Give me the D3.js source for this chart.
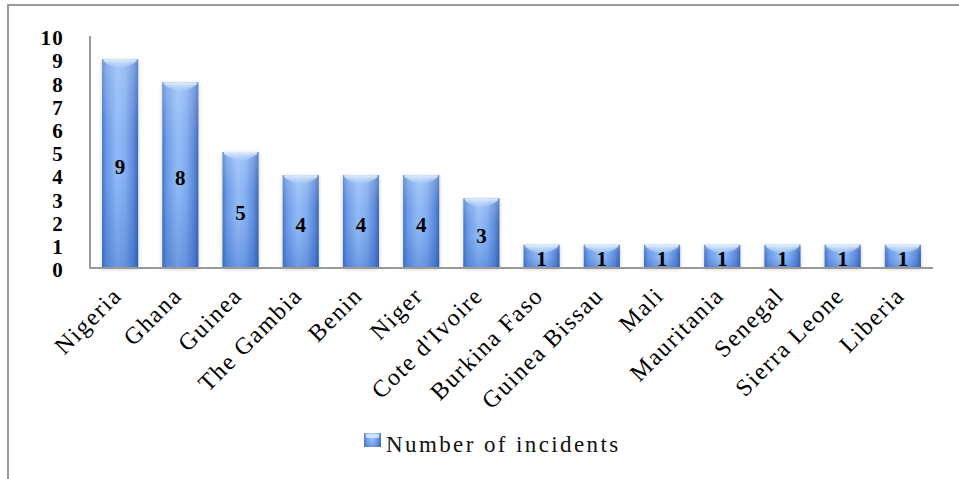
<!DOCTYPE html>
<html><head><meta charset="utf-8">
<script src="https://cdn.jsdelivr.net/npm/d3@7"></script>
<style>
html,body{margin:0;padding:0;background:#fff;}
svg{display:block;}
</style></head>
<body>
<svg id="chart" width="959" height="479"></svg>
<script>
const categories = ["Nigeria","Ghana","Guinea","The Gambia","Benin","Niger","Cote d'Ivoire","Burkina Faso","Guinea Bissau","Mali","Mauritania","Senegal","Sierra Leone","Liberia"];
const incidents = [9,8,5,4,4,4,3,1,1,1,1,1,1,1];
const yTicks = [0,1,2,3,4,5,6,7,8,9,10];
const seriesName = "Number of incidents";

const svg = d3.select("#chart");
const serif = "'Liberation Serif','Times New Roman',serif";

// frame
svg.append("path").attr("d","M8,479 V5 H959").attr("fill","none").attr("stroke","#9a9a9a").attr("stroke-width",2);

const x = d3.scaleBand().domain(categories).range([90,933]).paddingInner(0.4).paddingOuter(0.2);
const y = d3.scaleLinear().domain([0,10]).range([268,36]);

const defs = svg.append("defs");
const hg = defs.append("linearGradient").attr("id","hgrad").attr("x1","0").attr("x2","1").attr("y1","0").attr("y2","0");
[[0,"#4775c4"],[0.12,"#6a99e6"],[0.42,"#91bbf6"],[0.65,"#82adf0"],[0.88,"#5a88d8"],[1,"#3a66b4"]].forEach(([o,c])=>hg.append("stop").attr("offset",o).attr("stop-color",c));
const vg = defs.append("linearGradient").attr("id","vgrad").attr("x1","0").attr("x2","0").attr("y1","0").attr("y2","1");
[[0,"#ffffff",0.22],[0.3,"#ffffff",0.04],[0.55,"#1a4fb0",0],[1,"#1a4fb0",0.3]].forEach(([o,c,a])=>vg.append("stop").attr("offset",o).attr("stop-color",c).attr("stop-opacity",a));
const cg = defs.append("linearGradient").attr("id","cgrad").attr("x1","0").attr("x2","0").attr("y1","0").attr("y2","1");
[[0,"#e2effd",1],[1,"#b4d2f7",0.3]].forEach(([o,c,a])=>cg.append("stop").attr("offset",o).attr("stop-color",c).attr("stop-opacity",a));
const sh = defs.append("filter").attr("id","shadow").attr("x","-30%").attr("y","-10%").attr("width","160%").attr("height","130%");
sh.append("feGaussianBlur").attr("in","SourceAlpha").attr("stdDeviation",2).attr("result","b");
sh.append("feOffset").attr("in","b").attr("dx",0).attr("dy",1).attr("result","o");
sh.append("feComponentTransfer").attr("in","o").attr("result","t").append("feFuncA").attr("type","linear").attr("slope",0.2);
const mg = sh.append("feMerge"); mg.append("feMergeNode").attr("in","t"); mg.append("feMergeNode").attr("in","SourceGraphic");

// bars
const g = svg.append("g");
const bars = g.selectAll("g.bar").data(categories.map((c,i)=>({c,v:incidents[i]}))).join("g").attr("class","bar");
bars.append("rect").attr("x",d=>x(d.c)).attr("y",d=>y(d.v)).attr("width",x.bandwidth()).attr("height",d=>y(0)-y(d.v)).attr("fill","url(#hgrad)").attr("filter","url(#shadow)");
bars.append("rect").attr("x",d=>x(d.c)).attr("y",d=>y(d.v)).attr("width",x.bandwidth()).attr("height",d=>y(0)-y(d.v)).attr("fill","url(#vgrad)");
bars.append("path").attr("d",d=>{const x0=x(d.c),w=x.bandwidth(),t=y(d.v);return `M${x0+1.5},${t} H${x0+w-1.5} L${x0+w-1.5},${t+2} Q${x0+w/2},${t+15} ${x0+1.5},${t+2} Z`;}).attr("fill","url(#cgrad)");

// axes
svg.append("line").attr("x1",90).attr("x2",90).attr("y1",36).attr("y2",268).attr("stroke","#999").attr("stroke-width",2);
svg.append("line").attr("x1",89).attr("x2",933).attr("y1",268).attr("y2",268).attr("stroke","#999").attr("stroke-width",2);

const yAxis = d3.axisLeft(y).tickValues(yTicks).tickSize(0).tickPadding(26);
const ya = svg.append("g").attr("transform","translate(90,2)").call(yAxis);
ya.select(".domain").remove();
ya.selectAll("text").attr("font-family",serif).attr("font-weight","bold").attr("font-size",21).attr("letter-spacing",1.2).attr("fill","#000");

const xAxis = d3.axisBottom(x).tickSize(0).tickPadding(0);
const xa = svg.append("g").attr("transform","translate(0,268)").call(xAxis);
xa.select(".domain").remove();
xa.selectAll("text").attr("font-family",serif).attr("font-size",24).attr("letter-spacing",1.6).attr("fill","#000")
  .attr("text-anchor","end").attr("dy","0").attr("y",0)
  .attr("transform","translate(3,29) rotate(-45)");

// data labels
bars.append("text").attr("x",d=>x(d.c)+x.bandwidth()/2).attr("y",d=>(y(d.v)+y(0))/2+3)
  .attr("text-anchor","middle").attr("dominant-baseline","central")
  .attr("font-family",serif).attr("font-weight","bold").attr("font-size",21).attr("fill","#000").text(d=>d.v);

// legend
const lg = svg.append("g").attr("transform","translate(364,433)");
lg.append("rect").attr("width",17).attr("height",14).attr("fill","url(#hgrad)");
lg.append("rect").attr("width",17).attr("height",14).attr("fill","url(#vgrad)");
lg.append("rect").attr("x",2).attr("y",1).attr("width",13).attr("height",4).attr("fill","#d8e9fc").attr("opacity",0.85);
lg.append("text").attr("x",22).attr("y",19).attr("font-family",serif).attr("font-size",23).attr("letter-spacing",2.4).attr("fill","#111").text(seriesName);
</script>
</body></html>
